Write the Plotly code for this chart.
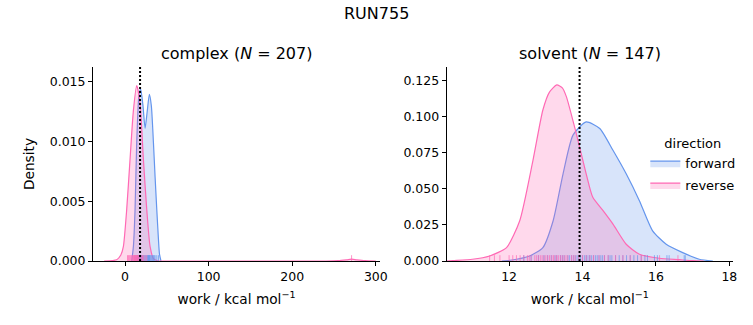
import plotly.graph_objects as go

# ---- data ----
complex_fwd_x = [8, 10, 12, 14, 16.8, 18.8, 21.5, 24, 26.5, 29.1, 31.5, 34, 36, 38, 40, 41.2, 43]
complex_fwd_y = [0, 0.0012, 0.0043, 0.0099, 0.0140, 0.01438, 0.0130, 0.0111, 0.0125, 0.01396,
                 0.0130, 0.0099, 0.0070, 0.0043, 0.0018, 0.0006, 0]
complex_rev_x = [-25, -15, -10, -5, -2, 2, 6, 10, 14, 18, 22, 26, 30, 34, 40, 60,
                 240, 255, 265, 271, 277, 287, 300]
complex_rev_y = [0, 0.00003, 0.0001, 0.0005, 0.0012, 0.0043, 0.0085, 0.0126, 0.0147, 0.0132,
                 0.0085, 0.0043, 0.0012, 0.0002, 0, 0, 0, 0.00003, 0.0001, 0.00015, 0.0001, 0.00003, 0]

solvent_fwd_x = [11.8, 12.02, 12.56, 12.92, 13.20, 13.47, 13.74, 14.10, 14.47, 14.83, 15.19,
                 15.55, 15.91, 16.28, 16.73, 17.18, 17.55]
solvent_fwd_y = [0, 0.0005, 0.0035, 0.0093, 0.0279, 0.0604, 0.0872, 0.0964, 0.0918, 0.0767,
                 0.0604, 0.0418, 0.0209, 0.0116, 0.0058, 0.0012, 0]
solvent_rev_x = [10.3, 10.47, 11.0, 11.47, 11.93, 12.29, 12.65, 12.92, 13.1, 13.30, 13.45, 13.56,
                 13.83, 14.10, 14.28, 14.56, 14.83, 15.19, 15.55, 16.09, 16.64, 17.0, 17.3]
solvent_rev_y = [0, 0.0003, 0.0012, 0.0035, 0.0093, 0.0279, 0.0697, 0.1046, 0.117, 0.122, 0.120,
                 0.1139, 0.0883, 0.0604, 0.0441, 0.0349, 0.0256, 0.0116, 0.0047, 0.0019, 0.0009,
                 0.0002, 0]

complex_fwd_samples = [12, 14, 15, 16, 17, 17.5, 18, 18.5, 19, 19.5, 20, 21, 22, 23, 24, 25, 26,
                       27, 27.5, 28, 28.5, 29, 29.5, 30, 31, 32, 33, 34, 35, 36, 38, 40]
complex_rev_samples = [3, 4, 5, 6, 7, 8, 9, 10, 10.5, 11, 11.5, 12, 12.5, 13, 13.5, 14, 14.5,
                       15, 15.5, 16, 17, 18, 19, 20, 21, 22, 24, 26, 271]
solvent_fwd_samples = [12.4, 12.6, 12.8, 12.95, 13.05, 13.15, 13.25, 13.3, 13.4, 13.45, 13.5,
                       13.6, 13.65, 13.7, 13.75, 13.8, 13.85, 13.9, 13.95, 14.0, 14.05, 14.1,
                       14.12, 14.18, 14.2, 14.25, 14.3, 14.35, 14.4, 14.45, 14.5, 14.55, 14.6,
                       14.7, 14.75, 14.8, 14.9, 15.0, 15.1, 15.2, 15.3, 15.4, 15.5, 15.6, 15.7,
                       15.77, 15.96, 16.04, 16.3, 16.36, 16.77, 16.8]
solvent_rev_samples = [11.47, 11.6, 11.75, 12.0, 12.1, 12.2, 12.3, 12.4, 12.5, 12.55, 12.6, 12.7,
                       12.75, 12.8, 12.85, 12.9, 12.95, 13.0, 13.05, 13.1, 13.15, 13.2, 13.22,
                       13.28, 13.3, 13.35, 13.4, 13.45, 13.5, 13.55, 13.6, 13.7, 13.75, 13.8,
                       13.9, 14.0, 14.1, 14.2, 14.3, 14.45, 14.6, 14.7, 14.9, 15.1, 15.3, 15.6,
                       16.1, 16.6]

complex_mean = 18.0
solvent_mean = 13.92
complex_n = 207
solvent_n = 147

# ---- styles ----
BLUE = "#6495ED"
PINK = "#FF69B4"
BLUE_FILL = "rgba(100,149,237,0.25)"
PINK_FILL = "rgba(255,105,180,0.25)"
BLUE_RUG = "rgba(100,149,237,0.7)"
PINK_RUG = "rgba(255,105,180,0.7)"
FONT = "DejaVu Sans"

ranges = {
    "x": [-38.3, 305], "y": [0, 0.01625],
    "x2": [10.3, 18.1], "y2": [0, 0.1344],
}

fig = go.Figure()


def add_kde(x, y, line, fill, name, xa, ya, show):
    fig.add_trace(go.Scatter(x=x, y=y, mode="lines", fill="tozeroy", fillcolor=fill,
                             line=dict(color=line, width=1.2, shape="spline", smoothing=0.6),
                             name=name, legendgroup=name, showlegend=show,
                             xaxis=xa, yaxis=ya, hoverinfo="skip"))


def add_rug(samples, color, xa, ya, h):
    xs, ys = [], []
    for v in samples:
        xs += [v, v, None]
        ys += [0, h, None]
    fig.add_trace(go.Scatter(x=xs, y=ys, mode="lines", line=dict(color=color, width=1),
                             showlegend=False, xaxis=xa, yaxis=ya, hoverinfo="skip"))


add_kde(complex_fwd_x, complex_fwd_y, BLUE, BLUE_FILL, "forward", "x", "y", True)
add_kde(complex_rev_x, complex_rev_y, PINK, PINK_FILL, "reverse", "x", "y", True)
add_kde(solvent_fwd_x, solvent_fwd_y, BLUE, BLUE_FILL, "forward", "x2", "y2", False)
add_kde(solvent_rev_x, solvent_rev_y, PINK, PINK_FILL, "reverse", "x2", "y2", False)

h1 = 0.03 * ranges["y"][1]
h2 = 0.03 * ranges["y2"][1]
add_rug(complex_fwd_samples, BLUE_RUG, "x", "y", h1)
add_rug(complex_rev_samples, PINK_RUG, "x", "y", h1)
add_rug(solvent_fwd_samples, BLUE_RUG, "x2", "y2", h2)
add_rug(solvent_rev_samples, PINK_RUG, "x2", "y2", h2)

# vertical dotted lines at the means
fig.add_trace(go.Scatter(x=[complex_mean, complex_mean], y=ranges["y"], mode="lines",
                         line=dict(color="black", width=2, dash="2px,2px"), showlegend=False,
                         xaxis="x", yaxis="y", hoverinfo="skip"))
fig.add_trace(go.Scatter(x=[solvent_mean, solvent_mean], y=ranges["y2"], mode="lines",
                         line=dict(color="black", width=2, dash="2px,2px"), showlegend=False,
                         xaxis="x2", yaxis="y2", hoverinfo="skip"))

axis_common = dict(showgrid=False, zeroline=False, showline=True, linecolor="black",
                   linewidth=1, ticks="outside", ticklen=4, tickcolor="black",
                   tickfont=dict(family=FONT, size=12.5, color="black"), automargin=False)
ydom = [64 / 325, 258 / 325]
xlabel = "work / kcal mol<sup>−1</sup>"
label_font = dict(size=13.7)

fig.update_layout(
    width=753, height=325,
    margin=dict(l=0, r=0, t=0, b=0),
    paper_bgcolor="white", plot_bgcolor="white",
    font=dict(family=FONT, size=12, color="black"),
    xaxis=dict(domain=[93 / 753, 380 / 753], range=ranges["x"], tickvals=[0, 100, 200, 300],
               title=dict(text=xlabel, standoff=11, font=label_font), anchor="y", **axis_common),
    yaxis=dict(domain=ydom, range=ranges["y"], tickvals=[0, 0.005, 0.010, 0.015],
               tickformat=".3f", title=dict(text="Density", standoff=11, font=label_font),
               anchor="x", **axis_common),
    xaxis2=dict(domain=[446.7 / 753, 733 / 753], range=ranges["x2"], tickvals=[12, 14, 16, 18],
                title=dict(text=xlabel, standoff=11, font=label_font), anchor="y2", **axis_common),
    yaxis2=dict(domain=ydom, range=ranges["y2"], dtick=0.025, tick0=0, tickformat=".3f",
                anchor="x2", **axis_common),
    legend=dict(x=0.857, y=0.596, xanchor="left", yanchor="top", bgcolor="rgba(0,0,0,0)",
                title=dict(text="direction", side="top center", font=dict(size=13)),
                font=dict(size=13), itemwidth=30, tracegroupgap=2),
    annotations=[
        dict(text="RUN755", x=0.5, y=1 - 13 / 325, xref="paper", yref="paper", showarrow=False,
             font=dict(size=16), xanchor="center", yanchor="middle"),
        dict(text=f"complex (<i>N</i> = {complex_n})", x=(93 + 380) / 2 / 753, y=1 - 54 / 325,
             xref="paper", yref="paper", showarrow=False, font=dict(size=16),
             xanchor="center", yanchor="middle"),
        dict(text=f"solvent (<i>N</i> = {solvent_n})", x=(446.7 + 733) / 2 / 753, y=1 - 54 / 325,
             xref="paper", yref="paper", showarrow=False, font=dict(size=16),
             xanchor="center", yanchor="middle"),
    ],
)

fig.write_html("out.html", config={"displayModeBar": False},
               post_script="document.body.style.margin='0';")
